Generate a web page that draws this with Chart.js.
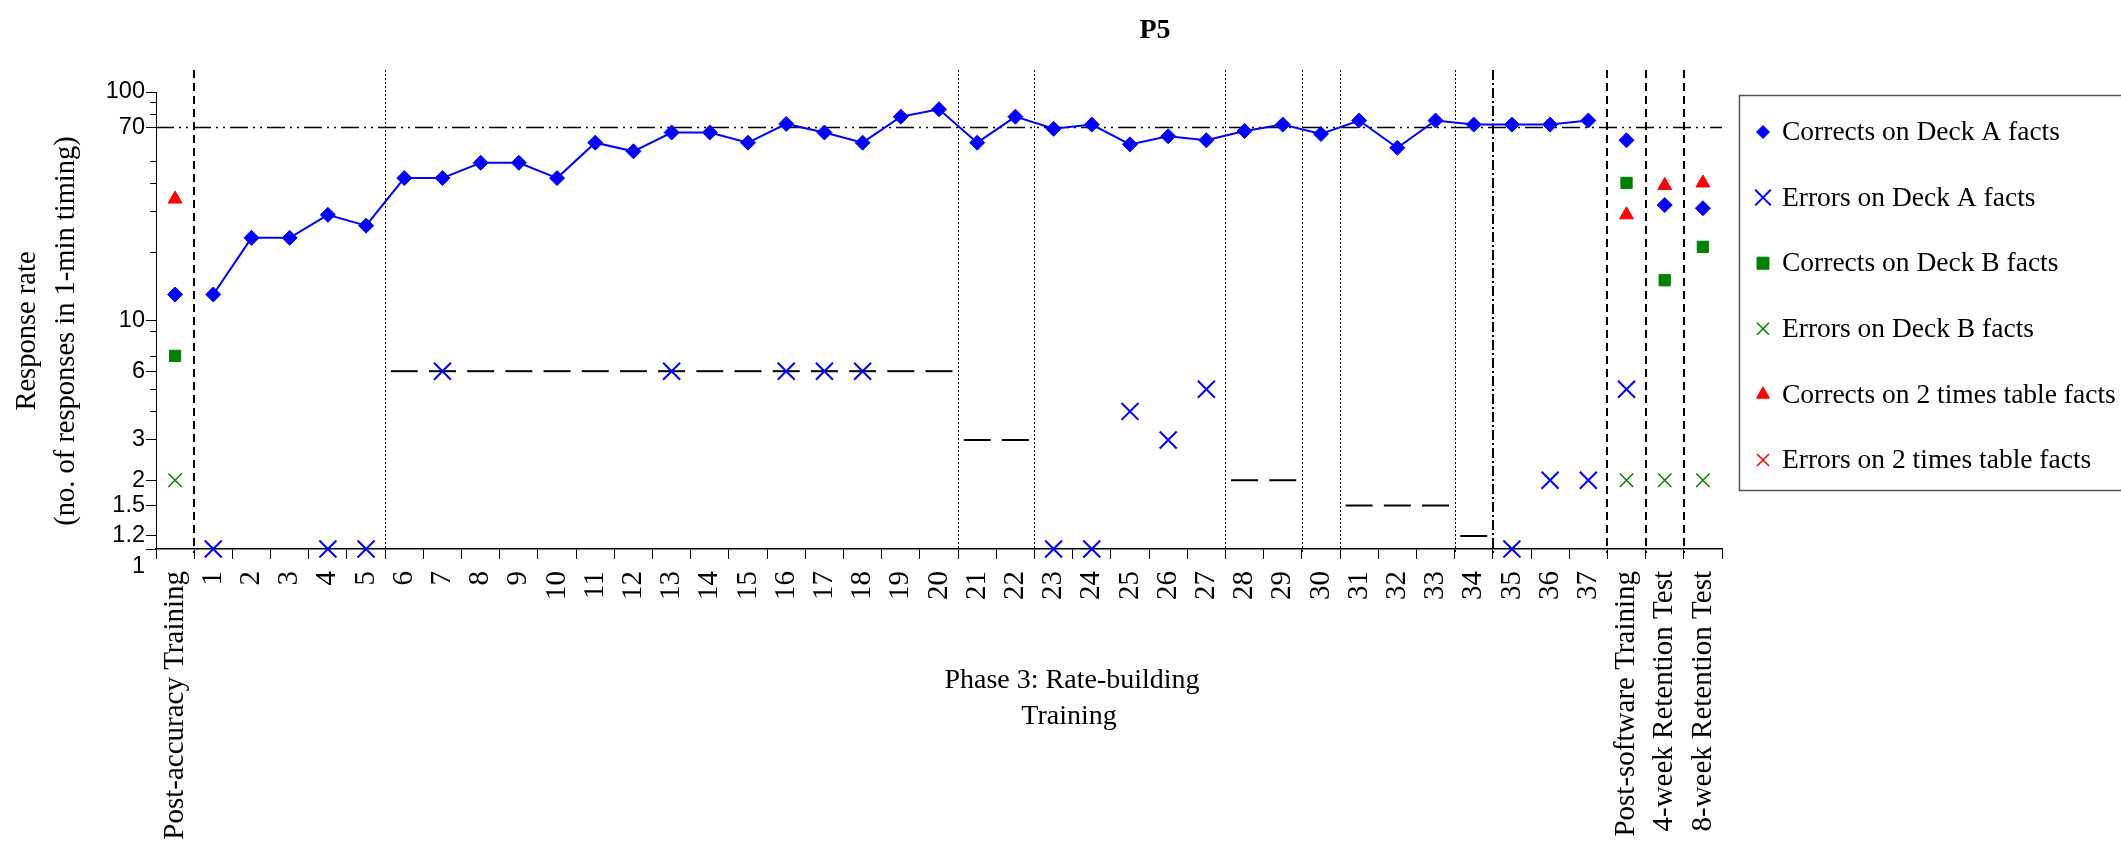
<!DOCTYPE html>
<html><head><meta charset="utf-8">
<script src="https://cdn.jsdelivr.net/npm/chart.js@4/dist/chart.umd.min.js"></script>
<style>html,body{margin:0;padding:0;background:#fff;}canvas{display:block;}</style>
</head><body>
<canvas id="c" width="2121" height="843" style="width:2121px;height:843px"></canvas>
<script>
const categories = ['Post-accuracy Training','1','2','3','4','5','6','7','8','9','10','11','12','13','14','15','16','17','18','19','20','21','22','23','24','25','26','27','28','29','30','31','32','33','34','35','36','37','Post-software Training','4-week Retention Test','8-week Retention Test'];

const correctsDeckA = [13, 13, 23, 23, 29, 26, 42, 42, 49, 49,
  42, 60, 55, 66.5, 66.5, 60, 72.5, 66.5, 60, 78,
  84, 60, 78, 69, 72, 59, 64, 61.5, 67.5, 72,
  65.5, 75, 57, 75, 72, 72, 72, 75, 61.5, 32,
  31];
const errorsDeckA = [null, 1, null, null, 1, 1, null, 6, null, null,
  null, null, null, 6, null, null, 6, 6, 6, null,
  null, null, null, 1, 1, 4, 3, 5, null, null,
  null, null, null, null, null, 1, 2, 2, 5, null,
  null];
const correctsDeckB = [7, null, null, null, null, null, null, null, null, null,
  null, null, null, null, null, null, null, null, null, null,
  null, null, null, null, null, null, null, null, null, null,
  null, null, null, null, null, null, null, null, 40, 15,
  21];
const errorsDeckB = [2, null, null, null, null, null, null, null, null, null,
  null, null, null, null, null, null, null, null, null, null,
  null, null, null, null, null, null, null, null, null, null,
  null, null, null, null, null, null, null, null, 2, 2,
  2];
const correctsTwos = [34, null, null, null, null, null, null, null, null, null,
  null, null, null, null, null, null, null, null, null, null,
  null, null, null, null, null, null, null, null, null, null,
  null, null, null, null, null, null, null, null, 29, 39,
  40];
const errorsTwos = [null, null, null, null, null, null, null, null, null, null,
  null, null, null, null, null, null, null, null, null, null,
  null, null, null, null, null, null, null, null, null, null,
  null, null, null, null, null, null, null, null, null, null,
  null];
const errorAim = [null, null, null, null, null, null,
  6, 6, 6, 6, 6, 6, 6, 6, 6, 6, 6, 6, 6, 6, 6,
  3, 3,
  null, null, null, null, null,
  2, 2,
  null,
  1.55, 1.55, 1.55,
  1.14,
  null, null, null, null, null, null];

const seriesNames = ['Corrects on Deck A facts','Errors on Deck A facts','Corrects on Deck B facts','Errors on Deck B facts','Corrects on 2 times table facts','Errors on 2 times table facts'];
const performanceCriterion = 70;
const yTickValues = [1, 1.14, 1.55, 2, 3, 6, 10, 70, 100];
const yTickLabels = ['1', '1.2', '1.5', '2', '3', '6', '10', '70', '100'];
const yMinorTicks = [4, 5, 7, 9, 20, 30, 40, 50, 80, 90];
const phaseBoundaries = [1, 6, 21, 23, 28, 30, 31, 34, 35, 38, 39, 40];
const phaseBoundaryKinds = ['dashed','dotted','dotted','dotted','dotted','dotted','dotted','dotted','dashdot','dashed','dashed','dashed'];
const titleText = 'P5';
const yTitleLines = ['Response rate', '(no. of responses in 1-min timing)'];
const phaseLabelLines = ['Phase 3: Rate-building', 'Training'];

const SERIF = '"Liberation Serif","Times New Roman",serif';
const SANS = '"Liberation Sans",Arial,sans-serif';
const BLUE = '#0000FF', GREEN = '#008000', RED = '#FF0000';

const legendMarks = [
  {style: 'rectRot', r: 6.5, color: BLUE, bw: 1},
  {style: 'crossRot', r: 11, color: BLUE, bw: 2},
  {style: 'rect', r: 8.5, color: GREEN, bw: 1},
  {style: 'crossRot', r: 8.5, color: GREEN, bw: 1.5},
  {style: 'triangle', r: 7.5, color: RED, bw: 1},
  {style: 'crossRot', r: 8.5, color: RED, bw: 1.5}
];

const decor = {
  id: 'decor',
  beforeDatasetsDraw(chart) {
    const {ctx, chartArea: a, scales: {x, y}} = chart;
    ctx.save();
    ctx.strokeStyle = '#000';
    ctx.lineWidth = 1;
    yMinorTicks.forEach(v => {
      const py = Math.round(y.getPixelForValue(v)) + 0.5;
      ctx.beginPath(); ctx.moveTo(a.left - 6, py); ctx.lineTo(a.left, py); ctx.stroke();
    });
    const cy = y.getPixelForValue(performanceCriterion);
    ctx.setLineDash([18, 5, 2, 5, 2, 5]);
    ctx.lineWidth = 1.5;
    ctx.beginPath(); ctx.moveTo(a.left, cy); ctx.lineTo(a.right, cy); ctx.stroke();
    phaseBoundaries.forEach((b, i) => {
      const px = Math.round((x.getPixelForValue(b - 1) + x.getPixelForValue(b)) / 2);
      const kind = phaseBoundaryKinds[i];
      if (kind === 'dashed') { ctx.setLineDash([8, 5]); ctx.lineWidth = 2; }
      else if (kind === 'dotted') { ctx.setLineDash([2, 2]); ctx.lineWidth = 1; }
      else { ctx.setLineDash([10, 3, 2, 3]); ctx.lineWidth = 2; }
      const off = ctx.lineWidth === 1 ? 0.5 : 0;
      ctx.beginPath(); ctx.moveTo(px + off, a.top - 22); ctx.lineTo(px + off, a.bottom + 4); ctx.stroke();
    });
    ctx.restore();
  },
  afterDraw(chart) {
    const {ctx} = chart;
    ctx.save();
    ctx.fillStyle = '#000';
    ctx.textAlign = 'center';
    ctx.textBaseline = 'middle';
    ctx.font = 'bold 28px ' + SERIF;
    ctx.fillText(titleText, 1155, 31);
    // y axis title
    ctx.font = '28.5px ' + SERIF;
    ctx.save();
    ctx.translate(28, 331);
    ctx.rotate(-Math.PI / 2);
    ctx.fillText(yTitleLines[0], 0, 0);
    ctx.fillText(yTitleLines[1], 0, 39);
    ctx.restore();
    // phase label
    ctx.font = '28px ' + SERIF;
    ctx.textBaseline = 'alphabetic';
    ctx.fillText(phaseLabelLines[0], 1072, 688);
    ctx.fillText(phaseLabelLines[1], 1069, 724);
    // legend
    ctx.strokeStyle = '#555';
    ctx.lineWidth = 1.5;
    ctx.strokeRect(1739.5, 95.5, 420, 395);
    ctx.textAlign = 'left';
    ctx.textBaseline = 'middle';
    ctx.font = '27.5px ' + SERIF;
    seriesNames.forEach((name, i) => {
      const m = legendMarks[i];
      const yy = 132 + i * 65.6;
      ctx.fillStyle = m.color; ctx.strokeStyle = m.color; ctx.lineWidth = m.bw;
      Chart.helpers.drawPoint(ctx, {pointStyle: m.style, radius: m.r, rotation: 0, borderWidth: m.bw}, 1763, yy);
      ctx.fillStyle = '#000';
      ctx.fillText(name, 1782, yy + 1);
    });
    ctx.restore();
  }
};

new Chart(document.getElementById('c'), {
  type: 'line',
  data: {
    labels: categories,
    datasets: [
      {label: seriesNames[0], data: correctsDeckA, borderColor: BLUE, backgroundColor: BLUE, borderWidth: 2,
        pointStyle: 'rectRot', pointRadius: 7.5, pointBorderWidth: 1, pointBackgroundColor: BLUE, pointBorderColor: BLUE,
        tension: 0, spanGaps: false, clip: false,
        segment: {borderColor: c => (c.p0DataIndex < 1 || c.p1DataIndex > 37) ? 'rgba(0,0,0,0)' : undefined}},
      {label: seriesNames[1], data: errorsDeckA, showLine: false, pointStyle: 'crossRot', pointRadius: 12,
        pointBorderWidth: 2, pointBorderColor: BLUE, pointBackgroundColor: BLUE, borderColor: BLUE, clip: false},
      {label: seriesNames[2], data: correctsDeckB, showLine: false, pointStyle: 'rect', pointRadius: 8,
        pointBorderWidth: 1, pointBorderColor: GREEN, pointBackgroundColor: GREEN, borderColor: GREEN, clip: false},
      {label: seriesNames[3], data: errorsDeckB, showLine: false, pointStyle: 'crossRot', pointRadius: 9.5,
        pointBorderWidth: 1.5, pointBorderColor: GREEN, pointBackgroundColor: GREEN, borderColor: GREEN, clip: false},
      {label: seriesNames[4], data: correctsTwos, showLine: false, pointStyle: 'triangle', pointRadius: 8,
        pointBorderWidth: 1, pointBorderColor: RED, pointBackgroundColor: RED, borderColor: RED, clip: false},
      {label: seriesNames[5], data: errorsTwos, showLine: false, pointStyle: 'crossRot', pointRadius: 9.5,
        pointBorderWidth: 1.5, pointBorderColor: RED, pointBackgroundColor: RED, borderColor: RED, clip: false},
      {label: 'Error aim', data: errorAim, showLine: false, pointStyle: 'line', pointRadius: 13.5,
        pointBorderWidth: 2, pointBorderColor: '#000', pointBackgroundColor: '#000', borderColor: '#000', clip: false}
    ]
  },
  options: {
    responsive: false,
    animation: false,
    events: [],
    layout: {padding: {top: 92, right: 399, bottom: 0, left: 0}},
    plugins: {legend: {display: false}, title: {display: false}, tooltip: {enabled: false}},
    scales: {
      x: {
        type: 'category', offset: true,
        grid: {offset: true, drawOnChartArea: false, drawTicks: true, tickLength: 10, color: '#000', lineWidth: 1},
        border: {color: '#000', width: 1.5},
        ticks: {autoSkip: false, maxRotation: 90, minRotation: 90, padding: 12, color: '#000', font: {family: SERIF, size: 29}},
        afterFit: s => { s.height = 294; }
      },
      y: {
        type: 'logarithmic', min: 1, max: 100,
        afterBuildTicks: s => { s.ticks = yTickValues.map(v => ({value: v})); },
        afterFit: s => { s.width = 156; },
        grid: {drawOnChartArea: false, drawTicks: true, tickLength: 10, color: '#000', lineWidth: 1},
        border: {color: '#000', width: 1},
        ticks: {autoSkip: false, padding: 1, color: '#000', font: {family: SANS, size: 23.5, lineHeight: 1.5},
          callback: v => { const i = yTickValues.indexOf(v); const t = i >= 0 ? yTickLabels[i] : ''; return v === 1 ? ['', t] : t; }}
      }
    }
  },
  plugins: [decor]
});
</script>
</body></html>
